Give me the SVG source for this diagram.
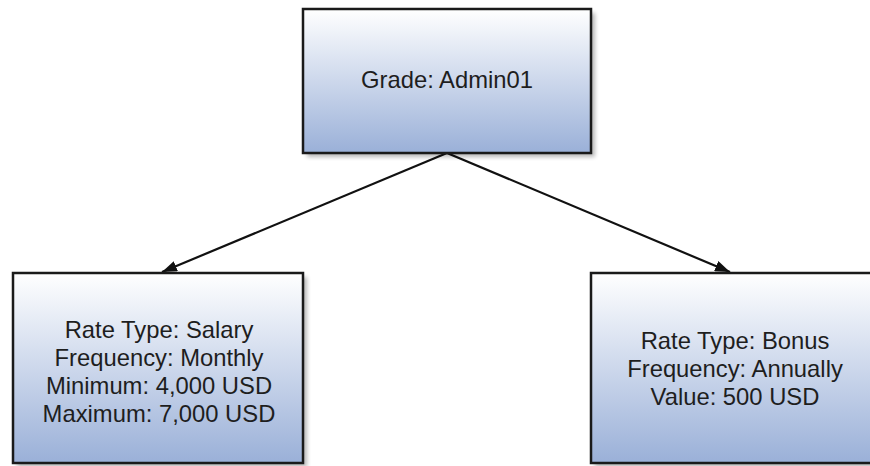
<svg xmlns="http://www.w3.org/2000/svg" width="870" height="466" viewBox="0 0 870 466">
<style>
.box{fill:url(#g);stroke:#1a1a1a;stroke-width:2.5}
.sh{fill:#000;opacity:0.28;filter:url(#blur)}
.t{font-family:"Liberation Sans",Arial,sans-serif;font-size:23.8px;fill:#1e1e1e;text-anchor:middle}
.c{stroke:#111;stroke-width:2.2;fill:none;marker-end:url(#arr)}
</style>
<defs>
<linearGradient id="g" x1="0" y1="0" x2="0" y2="1">
<stop offset="0" stop-color="#ffffff"/>
<stop offset="1" stop-color="#9ab0d8"/>
</linearGradient>
<filter id="blur" x="-10%" y="-10%" width="120%" height="120%"><feGaussianBlur stdDeviation="2"/></filter>
<marker id="arr" viewBox="0 0 15 11" refX="15" refY="5.5" markerWidth="15" markerHeight="11" markerUnits="userSpaceOnUse" orient="auto">
<path d="M0,0 L15,5.5 L0,11 z" fill="#111"/>
</marker>
</defs>
<rect width="870" height="466" fill="#ffffff"/>
<g id="connectors">
<line class="c" x1="447" y1="153" x2="162" y2="272"/>
<line class="c" x1="447" y1="153" x2="730" y2="272"/>
</g>
<g id="grade">
<rect class="sh" x="307" y="13" width="288" height="144"/>
<rect class="box" x="303" y="9" width="288" height="144"/>
<text class="t" x="447" y="88">Grade: Admin01</text>
</g>
<g id="salary">
<rect class="sh" x="17" y="277" width="290" height="190"/>
<rect class="box" x="13" y="273" width="290" height="190"/>
<text class="t" x="159" y="338">Rate Type: Salary</text>
<text class="t" x="159" y="366">Frequency: Monthly</text>
<text class="t" x="159" y="394">Minimum: 4,000 USD</text>
<text class="t" x="159" y="422">Maximum: 7,000 USD</text>
</g>
<g id="bonus">
<rect class="sh" x="595" y="277" width="290" height="190"/>
<rect class="box" x="591" y="273" width="290" height="190"/>
<text class="t" x="735" y="349">Rate Type: Bonus</text>
<text class="t" x="735" y="377">Frequency: Annually</text>
<text class="t" x="735" y="405">Value: 500 USD</text>
</g>
</svg>
